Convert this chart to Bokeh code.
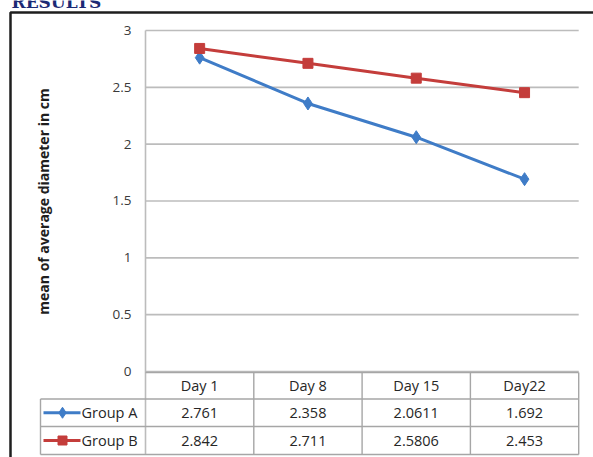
import math
from bokeh.plotting import figure
from bokeh.models import Range1d
from bokeh.core.properties import value
from bokeh.embed import file_html
from bokeh.resources import INLINE

# ---- data ----
categories = ["Day 1", "Day 8", "Day 15", "Day22"]
group_a = [2.761, 2.358, 2.0611, 1.692]
group_b = [2.842, 2.711, 2.5806, 2.453]
series_names = ["Group A", "Group B"]
y_ticks = [0, 0.5, 1, 1.5, 2, 2.5, 3]
y_tick_labels = ["0", "0.5", "1", "1.5", "2", "2.5", "3"]
y_title = "mean of average diameter in cm"
header_text = "RESULTS"

# ---- layout helpers (pixel -> data) ----
W, H = 593, 457
PX0, CW = 145.0, 108.3          # left of plot area, category width
PY0, U = 371.0, 113.67          # pixel of y=0, pixels per unit


def X(px):
    return (px - PX0) / CW


def Y(py):
    return (PY0 - py) / U


n = len(categories)
xc = [i + 0.5 for i in range(n)]

p = figure(width=W, height=H, output_backend="svg", toolbar_location=None,
           title=None, x_range=Range1d(X(0), X(W)), y_range=Range1d(Y(H), Y(0)),
           min_border=0, x_axis_type=None, y_axis_type=None)
p.grid.visible = False
p.outline_line_color = None
p.background_fill_color = "white"
p.border_fill_color = "white"

FONT = value("Open Sans")
GRID = "#bcbcbc"
TABLE = "#a6a6a6"
TXT = "#262626"

# outer dark frame
p.line(x=[X(10), X(10), X(W + 5)], y=[Y(H + 5), Y(12), Y(12)],
       line_color="#1e1e1e", line_width=2.5)

# header text (cut off at top, as in the source image)
p.text(x=[X(11)], y=[Y(1)], text=[header_text], text_font=value("DejaVu Serif"),
       text_font_style="bold", text_font_size="17px", text_color="#1c2a74",
       text_align="left", text_baseline="alphabetic")

# gridlines
p.segment(x0=[0] * len(y_ticks), x1=[n] * len(y_ticks), y0=y_ticks, y1=y_ticks,
          line_color=GRID, line_width=1.6)

# table geometry (pixels)
row_edges = [372, 398.5, 426, 454]
left_col = 40

# plot left axis line + table column lines
p.segment(x0=[0], x1=[0], y0=[y_ticks[-1]], y1=[Y(row_edges[-1])],
          line_color=GRID, line_width=1.6)
p.segment(x0=list(range(1, n + 1)), x1=list(range(1, n + 1)),
          y0=[Y(row_edges[0])] * n, y1=[Y(row_edges[-1])] * n,
          line_color=TABLE, line_width=1.4)
# table row lines
p.segment(x0=[0, X(left_col), X(left_col), X(left_col)], x1=[n] * 4,
          y0=[Y(r) for r in row_edges], y1=[Y(r) for r in row_edges],
          line_color=TABLE, line_width=1.4)
p.segment(x0=[X(left_col)], x1=[X(left_col)], y0=[Y(row_edges[1])], y1=[Y(row_edges[-1])],
          line_color=TABLE, line_width=1.4)

# y tick labels
p.text(x=[X(131)] * len(y_ticks), y=y_ticks, text=y_tick_labels, text_font=FONT,
       text_font_size="13.5px", text_color="#3a3a3a", text_align="right",
       text_baseline="middle")

# y axis title
p.text(x=[X(43)], y=[Y(201)], text=[y_title], angle=math.pi / 2,
       text_font=value("Open Sans"), text_font_style="bold", text_font_size="14px",
       text_color="#1e1e1e", text_align="center", text_baseline="middle")

# series lines
BLUE = "#3f7cc7"
RED = "#c43d3b"
p.line(x=xc, y=group_a, line_color=BLUE, line_width=3)
p.scatter(x=xc, y=group_a, marker="diamond", size=13, fill_color=BLUE, line_color=BLUE)
p.line(x=xc, y=group_b, line_color=RED, line_width=3)
p.scatter(x=xc, y=group_b, marker="square", size=10, fill_color=RED, line_color=RED)

# table header text
row_cy = [(row_edges[i] + row_edges[i + 1]) / 2 for i in range(3)]
p.text(x=xc, y=[Y(row_cy[0])] * n, text=categories, text_font=FONT,
       text_font_size="14.5px", text_color=TXT, text_align="center",
       text_baseline="middle")

# table values
for k, (vals, col, mk, msz) in enumerate([(group_a, BLUE, "diamond", 11),
                                          (group_b, RED, "square", 9)]):
    cy = Y(row_cy[k + 1])
    p.text(x=xc, y=[cy] * n, text=[str(v) for v in vals], text_font=FONT,
           text_font_size="14.5px", text_color=TXT, text_align="center",
           text_baseline="middle")
    p.line(x=[X(43), X(80)], y=[cy, cy], line_color=col, line_width=3)
    p.scatter(x=[X(62)], y=[cy], marker=mk, size=msz, fill_color=col, line_color=col)
    p.text(x=[X(81)], y=[cy], text=[series_names[k]], text_font=FONT,
           text_font_size="14.5px", text_color=TXT, text_align="left",
           text_baseline="middle")

open("out.html", "w").write(file_html(p, INLINE))
